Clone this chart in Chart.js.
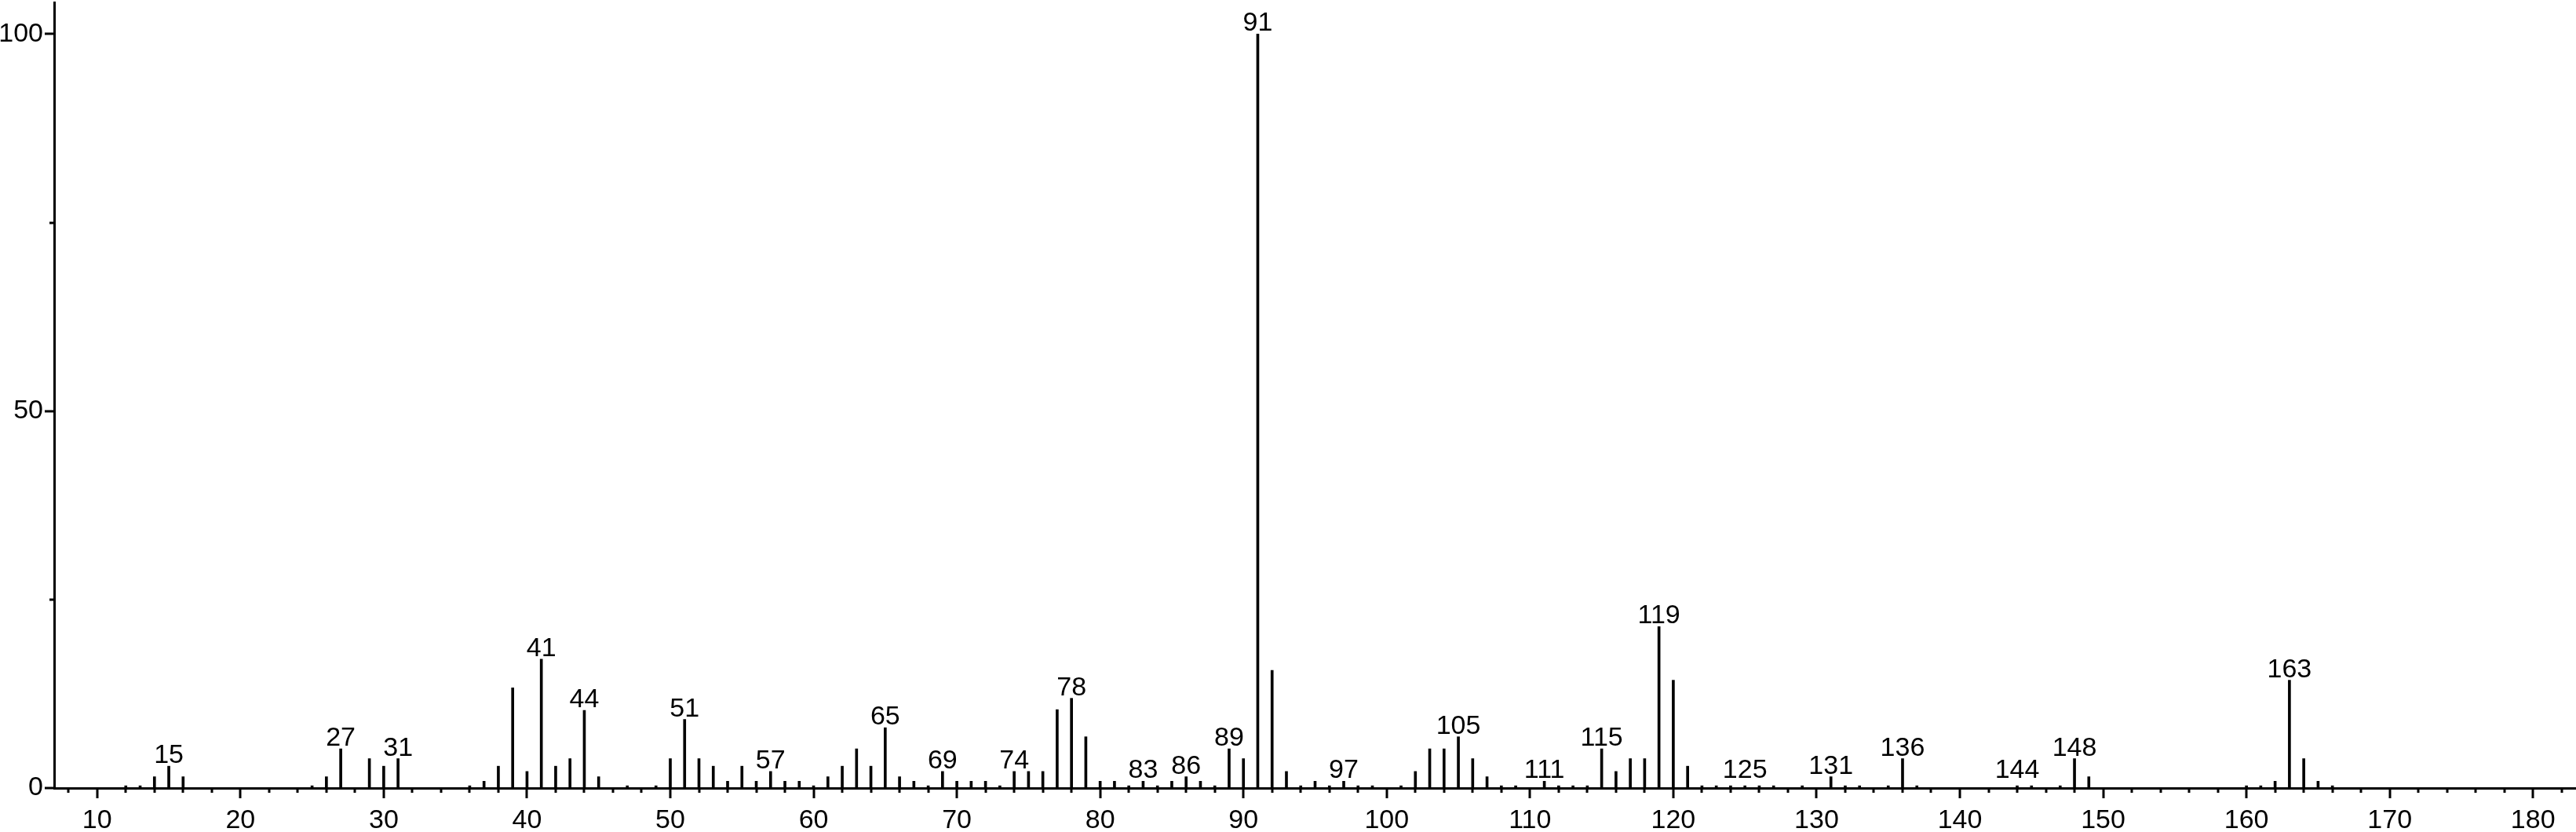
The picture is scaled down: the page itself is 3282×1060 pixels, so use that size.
<!DOCTYPE html>
<html>
<head>
<meta charset="utf-8">
<script src="https://cdn.jsdelivr.net/npm/chart.js@4/dist/chart.umd.min.js"></script>
<style>
  html, body { margin: 0; padding: 0; background: #fff; }
  canvas { display: block; }
</style>
</head>
<body>
<canvas id="chart" width="3282" height="1060"></canvas>
<script>
// m/z values and relative intensities (%)
const mzValues = [
  12, 13, 14, 15, 16, 25, 26, 27, 29, 30, 31,
  36, 37, 38, 39, 40, 41, 42, 43, 44, 45, 47, 49,
  50, 51, 52, 53, 54, 55, 56, 57, 58, 59, 60, 61, 62, 63, 64, 65, 66, 67, 68, 69,
  70, 71, 72, 73, 74, 75, 76, 77, 78, 79, 80, 81, 82, 83, 84, 85, 86, 87, 88, 89,
  90, 91, 92, 93, 94, 95, 96, 97, 98, 99, 101, 102, 103, 104, 105, 106, 107, 108, 109,
  111, 112, 113, 114, 115, 116, 117, 118, 119, 120, 121, 122, 123, 124, 125, 126, 127, 129,
  131, 132, 133, 135, 136, 137, 144, 145, 147, 148, 149,
  160, 161, 162, 163, 164, 165, 166
];
const intensities = [
  0.3, 0.3, 1.5, 2.9, 1.5, 0.3, 1.5, 5.2, 3.9, 2.9, 3.9,
  0.3, 0.9, 2.9, 13.3, 2.2, 17.1, 2.9, 3.9, 10.3, 1.5, 0.3, 0.3,
  3.9, 9.1, 3.9, 2.9, 0.9, 2.9, 0.9, 2.2, 0.9, 0.9, 0.3, 1.5, 2.9, 5.2, 2.9, 8.0, 1.5, 0.9, 0.3, 2.2,
  0.9, 0.9, 0.9, 0.3, 2.2, 2.2, 2.2, 10.4, 11.9, 6.8, 0.9, 0.9, 0.3, 0.9, 0.3, 0.9, 1.5, 0.9, 0.3, 5.2,
  3.9, 100, 15.6, 2.2, 0.3, 0.9, 0.3, 0.9, 0.3, 0.3, 0.3, 2.2, 5.2, 5.2, 6.8, 3.9, 1.5, 0.3, 0.3,
  0.9, 0.3, 0.3, 0.3, 5.2, 2.2, 3.9, 3.9, 21.4, 14.3, 2.9, 0.3, 0.3, 0.3, 0.3, 0.3, 0.3, 0.3,
  1.5, 0.3, 0.3, 0.3, 3.9, 0.3, 0.3, 0.3, 0.3, 3.9, 1.5,
  0.3, 0.3, 0.9, 14.3, 3.9, 0.9, 0.3
];
const labeledPeaks = [15, 27, 31, 41, 44, 51, 57, 65, 69, 74, 78, 83, 86, 89, 91, 97, 105, 111, 115, 119, 125, 131, 136, 144, 148, 163];
const xTickLabels = [10, 20, 30, 40, 50, 60, 70, 80, 90, 100, 110, 120, 130, 140, 150, 160, 170, 180];
const yTickLabels = [0, 50, 100];

const FONT = 'Liberation Sans, Arial, sans-serif';

const spectrumMarks = {
  id: 'spectrumMarks',
  afterDraw(chart) {
    const { ctx, chartArea, scales: { x, y } } = chart;
    ctx.save();
    ctx.strokeStyle = '#000';
    ctx.lineWidth = 3;
    ctx.beginPath();
    // x ticks: major every 10, minor every 2
    for (let v = 8; v <= 182; v += 2) {
      const px = Math.round(x.getPixelForValue(v));
      const len = v % 10 === 0 ? 13 : 6;
      ctx.moveTo(px, chartArea.bottom);
      ctx.lineTo(px, chartArea.bottom + len);
    }
    // y ticks: major every 50, minor every 25
    for (let v = 0; v <= 100; v += 25) {
      const py = Math.round(y.getPixelForValue(v));
      const len = v % 50 === 0 ? 12 : 6;
      ctx.moveTo(chartArea.left, py);
      ctx.lineTo(chartArea.left - len, py);
    }
    ctx.stroke();

    // peak labels
    ctx.fillStyle = '#000';
    ctx.font = '34px ' + FONT;
    ctx.textAlign = 'center';
    ctx.textBaseline = 'alphabetic';
    labeledPeaks.forEach((mz) => {
      const i = mzValues.indexOf(mz);
      const val = Math.max(intensities[i], 0.9);
      const px = x.getPixelForValue(mz);
      const py = y.getPixelForValue(val) - 4;
      ctx.fillText(String(mz), px, py);
    });
    ctx.restore();
  }
};

new Chart(document.getElementById('chart'), {
  type: 'bar',
  data: {
    datasets: [{
      data: mzValues.map((mz, i) => ({ x: mz, y: intensities[i] })),
      backgroundColor: '#000',
      borderWidth: 0,
      barThickness: 3,
      grouped: false
    }]
  },
  plugins: [spectrumMarks],
  options: {
    responsive: false,
    animation: false,
    layout: { padding: { top: 3, right: 0, left: 0, bottom: 0 } },
    plugins: {
      legend: { display: false },
      tooltip: { enabled: false }
    },
    scales: {
      x: {
        type: 'linear',
        offset: false,
        min: 7,
        max: 183,
        afterBuildTicks: (scale) => { scale.ticks = xTickLabels.map((v) => ({ value: v })); },
        afterFit: (scale) => {
          scale.height = 56;
          scale.paddingLeft = 0;
          scale.paddingRight = 0;
        },
        grid: { display: false, drawTicks: false },
        border: { display: true, color: '#000', width: 3 },
        ticks: {
          color: '#000',
          padding: 21,
          maxRotation: 0,
          autoSkip: false,
          font: { family: FONT, size: 34 }
        }
      },
      y: {
        min: 0,
        max: 104.2,
        afterBuildTicks: (scale) => { scale.ticks = yTickLabels.map((v) => ({ value: v })); },
        afterFit: (scale) => {
          scale.width = 69;
          scale.paddingTop = 0;
          scale.paddingBottom = 0;
        },
        grid: { display: false, drawTicks: false },
        border: { display: true, color: '#000', width: 3 },
        ticks: {
          color: '#000',
          padding: 14,
          font: { family: FONT, size: 34 }
        }
      }
    }
  }
});
</script>
</body>
</html>
